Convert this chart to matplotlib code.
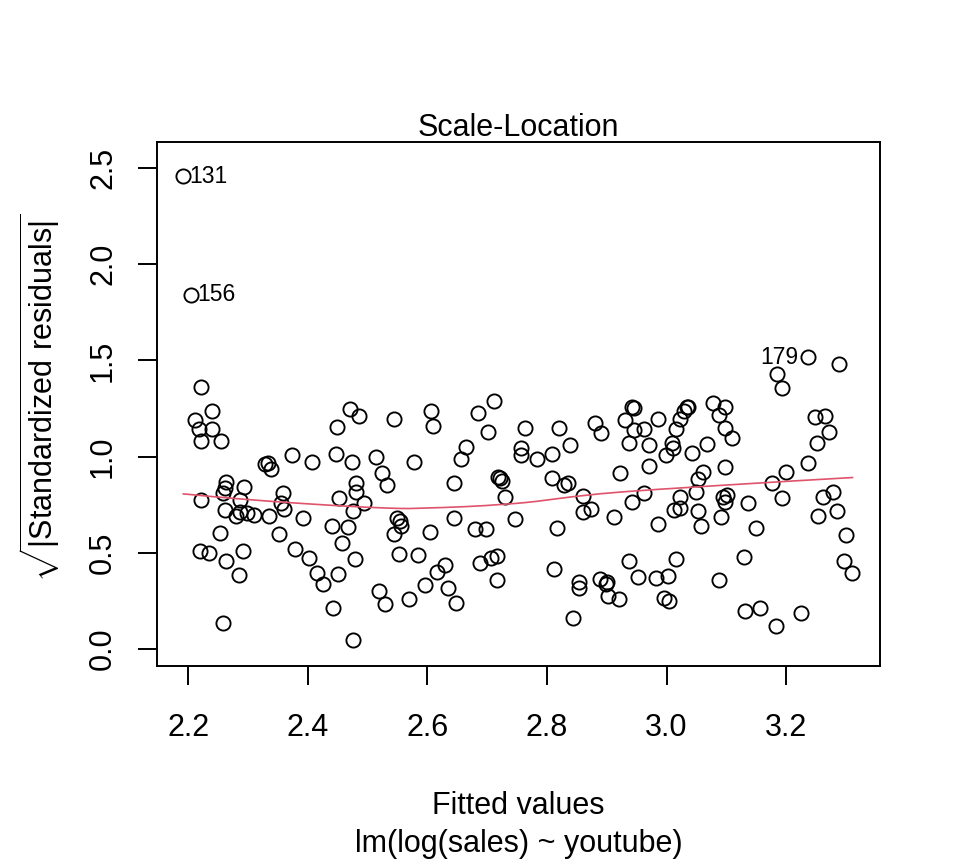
import matplotlib
matplotlib.use("Agg")
import matplotlib.pyplot as plt
import numpy as np

plt.rcParams['font.family'] = ['Liberation Sans', 'DejaVu Sans']
plt.rcParams['mathtext.fontset'] = 'custom'
plt.rcParams['mathtext.rm'] = 'Liberation Sans'

# fitted values and sqrt(|standardized residuals|)
fitted = [
    2.192, 2.205, 2.222, 2.240, 2.211, 2.218, 2.240, 2.222, 2.255,
    2.471, 2.485, 2.449, 2.545, 2.373, 2.407, 2.329, 2.334, 2.339,
    2.447, 2.474, 2.514, 2.525, 2.532, 2.264, 2.261, 2.259, 2.294,
    2.359, 2.480, 2.480, 2.452, 2.221, 2.287, 2.356, 2.360, 2.494,
    2.475, 2.261, 2.280, 2.287, 2.299, 2.310, 2.335, 2.392, 2.441,
    2.468, 2.254, 2.352, 2.220, 2.235, 2.264, 2.292, 2.285, 2.379,
    2.403, 2.416, 2.426, 2.451, 2.458, 2.479, 2.442, 2.476, 2.259,
    2.520, 2.530, 2.545, 2.552, 2.549, 2.555, 2.556,
    2.606, 2.609, 2.685, 2.712, 2.701, 2.665, 2.656, 2.578, 2.645,
    2.764, 2.821, 2.756, 2.757, 2.783, 2.808, 2.838, 2.881, 2.890,
    2.930, 2.943, 2.946, 2.946, 2.938, 2.922, 2.719, 2.722, 2.725,
    2.808, 2.828, 2.835, 2.730, 2.860, 2.942, 2.874, 2.860,
    2.605, 2.645, 2.679, 2.698, 2.747, 2.817, 2.912,
    2.585, 2.629, 2.617, 2.596, 2.634, 2.570, 2.648,
    2.688, 2.706, 2.717, 2.716, 2.812, 2.853, 2.854,
    2.889, 2.901, 2.899, 2.902, 2.921, 2.843, 2.937, 2.953,
    3.236, 3.289, 3.184, 3.193,
    2.985, 2.962, 2.970, 2.970, 3.016, 3.023, 3.030, 3.034, 3.036,
    3.009, 3.011, 2.999, 3.043, 3.068, 3.077, 3.097, 3.088, 3.098,
    3.110, 3.097, 3.061, 3.052, 3.049, 3.023, 2.962,
    3.177, 3.199, 3.236, 3.251, 3.271, 3.249, 3.265,
    3.193, 3.262, 3.278, 3.095, 3.098, 3.101, 3.137,
    3.013, 3.022, 3.053, 2.986, 3.058, 3.091, 3.150, 3.254, 3.285, 3.300,
    3.016, 2.982, 3.002, 3.088, 3.129, 2.996, 3.004, 3.297, 3.311,
    3.131, 3.157, 3.183, 3.225,
]
sqrt_std_resid = [
    2.458, 1.840, 1.360, 1.237, 1.190, 1.143, 1.143, 1.083, 1.081,
    1.247, 1.213, 1.155, 1.194, 1.008, 0.974, 0.960, 0.965, 0.934,
    1.012, 0.970, 0.999, 0.916, 0.852, 0.870, 0.835, 0.809, 0.840,
    0.809, 0.861, 0.818, 0.783, 0.774, 0.774, 0.759, 0.728, 0.759,
    0.719, 0.722, 0.693, 0.712, 0.707, 0.696, 0.693, 0.679, 0.641,
    0.636, 0.603, 0.599, 0.509, 0.497, 0.457, 0.509, 0.385, 0.518,
    0.471, 0.393, 0.336, 0.388, 0.549, 0.468, 0.212, 0.047, 0.134,
    0.303, 0.234, 0.598, 0.492, 0.680, 0.665, 0.640,
    1.237, 1.161, 1.228, 1.289, 1.128, 1.051, 0.986, 0.974, 0.861,
    1.147, 1.147, 1.043, 1.008, 0.986, 1.014, 1.060, 1.176, 1.121,
    1.190, 1.256, 1.252, 1.138, 1.072, 0.913, 0.896, 0.889, 0.875,
    0.887, 0.852, 0.865, 0.792, 0.797, 0.766, 0.726, 0.711,
    0.610, 0.679, 0.622, 0.624, 0.674, 0.627, 0.685,
    0.489, 0.437, 0.402, 0.333, 0.315, 0.260, 0.238,
    0.445, 0.475, 0.485, 0.359, 0.416, 0.347, 0.319,
    0.362, 0.347, 0.338, 0.277, 0.260, 0.163, 0.459, 0.373,
    1.516, 1.480, 1.428, 1.355,
    1.194, 1.142, 1.060, 0.953, 1.142, 1.194, 1.237, 1.256, 1.259,
    1.069, 1.043, 1.008, 1.020, 1.064, 1.280, 1.259, 1.216, 1.147,
    1.095, 0.948, 0.922, 0.882, 0.818, 0.792, 0.809,
    0.861, 0.922, 0.968, 1.069, 1.130, 1.208, 1.213,
    0.783, 0.792, 0.818, 0.792, 0.766, 0.800, 0.761,
    0.723, 0.731, 0.717, 0.648, 0.639, 0.688, 0.627, 0.693, 0.717, 0.593,
    0.468, 0.367, 0.379, 0.359, 0.477, 0.267, 0.249, 0.457, 0.397,
    0.198, 0.212, 0.121, 0.186,
]

# labelled observations: id, index in the arrays above, side
ids = ["131", "156", "179"]
id_index = [0, 1, 134]
id_side = ["right", "right", "left"]


def lowess(x, y, f=2/3, iters=3):
    # same idea as R's lowess(): local linear fits with tricube weights
    order = np.argsort(x)
    x = np.asarray(x, float)[order]
    y = np.asarray(y, float)[order]
    n = len(x)
    r = int(np.ceil(f * n))
    fit = np.zeros(n)
    robust = np.ones(n)
    for it in range(iters + 1):
        for i in range(n):
            d = np.abs(x - x[i])
            h = np.sort(d)[r - 1]
            w = np.clip(d / h, 0, 1)
            w = (1 - w ** 3) ** 3 * robust
            sw = w.sum()
            xm = (w * x).sum() / sw
            ym = (w * y).sum() / sw
            sxx = (w * (x - xm) ** 2).sum()
            b = (w * (x - xm) * (y - ym)).sum() / sxx if sxx > 0 else 0
            fit[i] = ym + b * (x[i] - xm)
        res = y - fit
        s = np.median(np.abs(res))
        robust = np.clip(res / (6 * s), -1, 1)
        robust = (1 - robust ** 2) ** 2
    return x, fit


fig = plt.figure(figsize=(9.6, 8.64), dpi=100)
ax = fig.add_axes([157/960, 1 - 666/864, 723/960, 524/864])

ax.plot(fitted, sqrt_std_resid, 'o', mfc='none', mec='black', ms=10.2, mew=1.35)

sx, sy = lowess(fitted, sqrt_std_resid)
ax.plot(sx, sy, color='#DF536B', lw=1.2)

for lab, i, side in zip(ids, id_index, id_side):
    dx = 4.5 if side == "right" else -6.5
    ax.annotate(lab, (fitted[i], sqrt_std_resid[i]), xytext=(dx, 0),
                textcoords='offset points', fontsize=16.5,
                ha='left' if side == "right" else 'right', va='center')

ax.set_xlim(2.148, 3.357)
ax.set_ylim(-0.088, 2.635)
ax.set_xticks([2.2, 2.4, 2.6, 2.8, 3.0, 3.2])
ax.set_xticklabels(["2.2", "2.4", "2.6", "2.8", "3.0", "3.2"])
ax.set_yticks([0.0, 0.5, 1.0, 1.5, 2.0, 2.5])
ax.set_yticklabels(["0.0", "0.5", "1.0", "1.5", "2.0", "2.5"], rotation=90, va='center')

for s in ax.spines.values():
    s.set_linewidth(1.4)
ax.tick_params(direction='out', length=14, width=1.4, labelsize=22)
ax.tick_params(axis='x', pad=20)
ax.tick_params(axis='y', pad=14)

cx = (157 + 880) / 2 / 960
fig.text(cx, 1 - 136/864, "Scale-Location", fontsize=22, ha='center', va='baseline')
fig.text(cx, 1 - 806/864, "Fitted values", fontsize=22, ha='center', va='center')
fig.text(cx, 1 - 844/864, "lm(log(sales) ~ youtube)", fontsize=22, ha='center', va='center')
fig.text(40/960, 1 - 398/864, r"$\sqrt{|\mathrm{Standardized\ residuals}|}$",
         fontsize=22, rotation=90, ha='center', va='center')

fig.savefig("out.png", dpi=100)
